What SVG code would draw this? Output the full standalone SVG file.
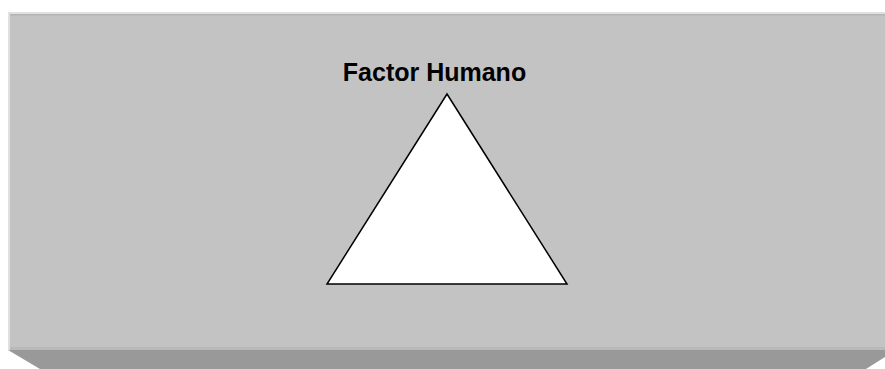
<svg xmlns="http://www.w3.org/2000/svg" width="885" height="369" viewBox="0 0 885 369">
<style>
.lbl{font-family:"Liberation Sans",Arial,sans-serif;font-weight:bold;font-size:25px;fill:#000}
</style>
<rect x="0" y="0" width="885" height="369" fill="#ffffff"/>
<g id="panel">
<rect x="8" y="12" width="877" height="338" fill="#e0e0e0"/>
<rect x="10" y="14" width="875" height="335" fill="#c3c3c3"/>
<rect x="10" y="14" width="875" height="1.5" fill="#b4b4b4"/>
<rect x="10" y="347" width="875" height="3" fill="#b9b9b9"/>
<polygon points="8,350 885,350 885,357 866,369 40,369" fill="#999999"/>
</g>
<g id="factor-humano">
<polygon points="447,94 567,284 327,284" fill="#ffffff" stroke="#000" stroke-width="1.5"/>
<text class="lbl" x="434.5" y="81" text-anchor="middle">Factor Humano</text>
</g>
</svg>
